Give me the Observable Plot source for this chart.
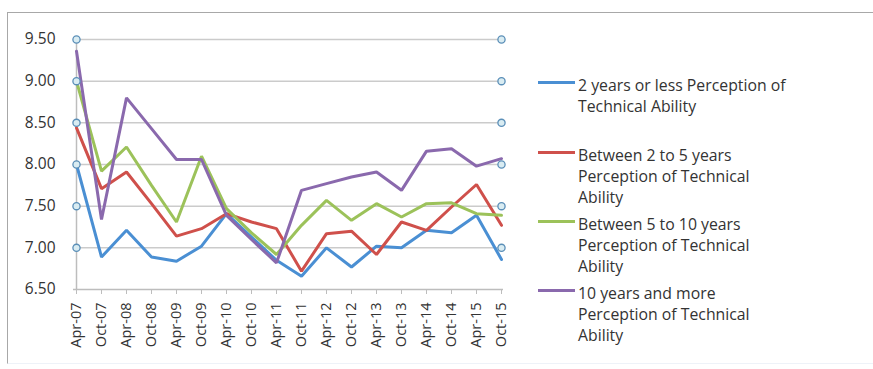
<!DOCTYPE html>
<html><head><meta charset="utf-8">
<script src="https://cdn.jsdelivr.net/npm/d3@7"></script>
<script src="https://cdn.jsdelivr.net/npm/@observablehq/plot@0.6"></script>
<style>
body{margin:0;background:#fff;font-family:"Open Sans",Lato,sans-serif;}
#wrap{position:relative;width:873px;height:369px;overflow:hidden;}
#frame{position:absolute;left:7px;top:12px;width:900px;height:350px;border-left:1.5px solid #a8a8a8;border-top:1.5px solid #a8a8a8;border-bottom:1px solid #eef2f8;}
#chart{position:absolute;left:0;top:0;}
.item{position:absolute;left:538px;}
.sw{position:absolute;left:0;width:37px;height:3px;}
.lbl{position:absolute;left:40px;white-space:pre;font-size:15.8px;line-height:21px;color:#333;}
</style></head>
<body><div id="wrap"><div id="frame"></div><div id="chart"></div><div id="legend"></div></div>
<script>
const categories = ["Apr-07","Oct-07","Apr-08","Oct-08","Apr-09","Oct-09","Apr-10","Oct-10","Apr-11","Oct-11","Apr-12","Oct-12","Apr-13","Oct-13","Apr-14","Oct-14","Apr-15","Oct-15"];
const series = ["2 years or less Perception of Technical Ability","Between 2 to 5 years Perception of Technical Ability","Between 5 to 10 years Perception of Technical Ability","10 years and more Perception of Technical Ability"];
const legendLines = ["2 years or less Perception of\nTechnical Ability","Between 2 to 5 years\nPerception of Technical\nAbility","Between 5 to 10 years\nPerception of Technical\nAbility","10 years and more\nPerception of Technical\nAbility"];
const twoOrLess   = [8.00,6.89,7.21,6.89,6.84,7.02,7.41,7.13,6.85,6.66,7.00,6.77,7.02,7.00,7.21,7.18,7.39,6.86];
const twoToFive   = [8.44,7.71,7.91,7.53,7.14,7.23,7.41,7.31,7.23,6.72,7.17,7.20,6.92,7.31,7.21,7.49,7.76,7.27];
const fiveToTen   = [9.00,7.92,8.21,7.75,7.31,8.10,7.47,7.18,6.92,7.27,7.57,7.33,7.53,7.37,7.53,7.54,7.41,7.39];
const tenOrMore   = [9.36,7.34,8.80,8.43,8.06,8.06,7.39,7.10,6.82,7.69,7.77,7.85,7.91,7.69,8.16,8.19,7.98,8.07];
const yTicks = [6.5,7,7.5,8,8.5,9,9.5];
const markerValues = [7,7.5,8,8.5,9,9.5];
const colors = ["#4a8fd3","#cf504b","#9cc25a","#8a69ad"];
const legendTops = [74.5,144.5,213.5,282.5];

const values = [twoOrLess, twoToFive, fiveToTen, tenOrMore];
const data = [];
series.forEach((s,k)=>values[k].forEach((v,i)=>data.push({cat:categories[i], value:v, series:s})));

const chart = Plot.plot({
  width:873, height:369,
  marginLeft:73, marginRight:370, marginTop:39, marginBottom:80,
  style:{fontFamily:"'Open Sans', Lato, sans-serif", fontSize:"14px", color:"#333", background:"transparent", overflow:"visible"},
  x:{type:"point", domain:categories, padding:0, label:null},
  y:{domain:[6.5,9.5], label:null},
  color:{domain:series, range:colors},
  marks:[
    Plot.ruleY(markerValues, {stroke:"#cbcbcb", strokeWidth:1.5}),
    Plot.ruleX([categories[0]], {stroke:"#bdbdbd", strokeWidth:1.5}),
    Plot.ruleY([6.5], {stroke:"#bdbdbd", strokeWidth:1.5}),
    Plot.axisY(yTicks, {tickFormat:d3.format(".2f"), tickSize:0, tickPadding:18, fontSize:15.5, fill:"#333", label:null}),
    Plot.axisX(categories, {tickRotate:-90, tickSize:5, tickPadding:8, fontSize:14.5, stroke:"#bdbdbd", fill:"#333", label:null}),
    Plot.line(data, {x:"cat", y:"value", stroke:"series", z:"series", strokeWidth:3, strokeLinejoin:"miter"}),
    Plot.dot(markerValues, {x:()=>categories[0], y:d=>d, r:3.6, fill:"#d9ecf2", stroke:"#5b8fb8", strokeWidth:1.3}),
    Plot.dot(markerValues, {x:()=>categories[categories.length-1], y:d=>d, r:3.6, fill:"#d9ecf2", stroke:"#5b8fb8", strokeWidth:1.3})
  ]
});
document.getElementById("chart").appendChild(chart);

const legend = document.getElementById("legend");
legendLines.forEach((t,k)=>{
  const it = document.createElement("div");
  it.className = "item";
  it.style.top = legendTops[k] + "px";
  it.innerHTML = `<div class="sw" style="background:${colors[k]};top:6.5px"></div><div class="lbl"></div>`;
  it.querySelector(".lbl").textContent = t;
  legend.appendChild(it);
});
</script></body></html>
